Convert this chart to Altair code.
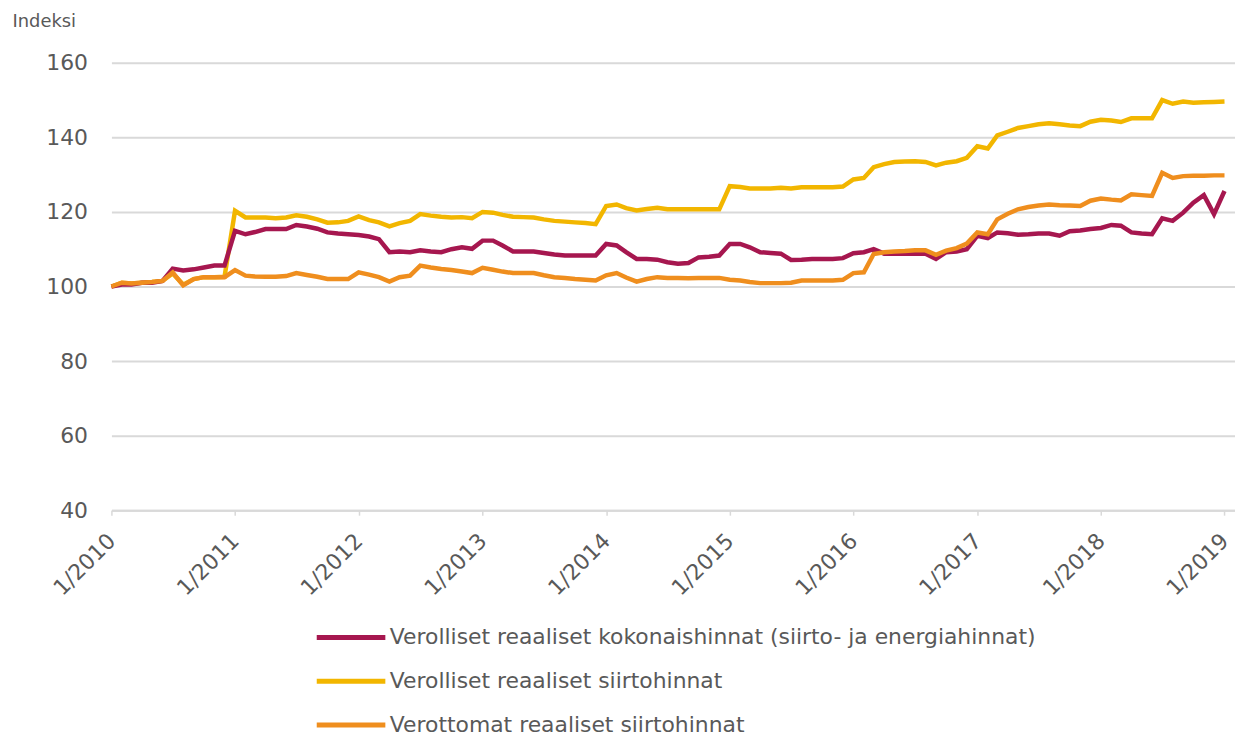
import altair as alt
import pandas as pd

series_names = [
    "Verolliset reaaliset kokonaishinnat (siirto- ja energiahinnat)",
    "Verolliset reaaliset siirtohinnat",
    "Verottomat reaaliset siirtohinnat",
]
series_colors = ["#A6174F", "#F2B600", "#EF8E1E"]

kokonais = [
    100, 100.5, 100.5, 101, 101, 101.5, 104.8, 104.3, 104.6, 105.1, 105.6, 105.6,
    114.9, 114, 114.6, 115.4, 115.4, 115.4, 116.5, 116.1, 115.5, 114.5, 114.2, 114,
    113.8, 113.4, 112.7, 109.2, 109.4, 109.2, 109.7, 109.4, 109.2, 110, 110.5, 110.1,
    112.3, 112.3, 111, 109.4, 109.4, 109.4, 109, 108.6, 108.3, 108.3, 108.3, 108.3,
    111.4, 111, 109.2, 107.4, 107.4, 107.2, 106.5, 106.1, 106.3, 107.8, 108, 108.3,
    111.4, 111.4, 110.5, 109.2, 109, 108.8, 107.1, 107.2, 107.4, 107.4, 107.4, 107.6,
    108.9, 109.2, 110, 108.8, 108.8, 108.8, 108.8, 108.8, 107.4, 109.2, 109.4, 110,
    113.6, 113, 114.5, 114.3, 113.9, 114, 114.2, 114.2, 113.6, 114.8, 115, 115.4,
    115.7, 116.5, 116.3, 114.5, 114.2, 114, 118.3, 117.6, 119.8, 122.5, 124.5, 119.4,
    125.6,
]
verolliset_siirto = [
    100, 101, 100.8, 101, 101.2, 101.5, 103.5, 100.5, 102, 102.5, 102.5, 102.6,
    120.3, 118.5, 118.5, 118.5, 118.3, 118.5, 119.1, 118.7, 118, 117.1, 117.2, 117.6,
    118.8, 117.8, 117.2, 116.1, 117, 117.6, 119.4, 119, 118.7, 118.5, 118.6, 118.3,
    120, 119.8, 119.2, 118.7, 118.6, 118.5, 118, 117.6, 117.4, 117.2, 117, 116.7,
    121.6, 122, 121, 120.4, 120.8, 121.1, 120.7, 120.7, 120.7, 120.7, 120.7, 120.7,
    126.9, 126.7, 126.3, 126.3, 126.3, 126.5, 126.3, 126.6, 126.6, 126.6, 126.6, 126.8,
    128.7, 129.1, 132, 132.8, 133.4, 133.5, 133.6, 133.4, 132.5, 133.2, 133.6, 134.5,
    137.6, 137, 140.5, 141.5, 142.5, 143, 143.5, 143.8, 143.5, 143.2, 143, 144.2,
    144.7, 144.5, 144.1, 145.1, 145.1, 145.1, 150, 149, 149.6, 149.3, 149.4, 149.5,
    149.6,
]
verottomat_siirto = [
    100, 101, 100.8, 101, 101.2, 101.5, 103.8, 100.3, 102, 102.5, 102.5, 102.5,
    104.4, 102.9, 102.7, 102.6, 102.6, 102.8, 103.6, 103.1, 102.6, 102, 102, 102,
    103.8, 103.2, 102.5, 101.3, 102.5, 102.9, 105.6, 105.1, 104.7, 104.4, 104, 103.6,
    105, 104.5, 104, 103.6, 103.6, 103.6, 103, 102.5, 102.3, 102, 101.8, 101.6,
    103, 103.6, 102.4, 101.3, 102, 102.5, 102.3, 102.3, 102.2, 102.3, 102.3, 102.3,
    101.8, 101.6, 101.2, 100.9, 100.9, 100.9, 101, 101.6, 101.6, 101.6, 101.6, 101.8,
    103.6, 103.8, 108.7, 109.2, 109.4, 109.5, 109.7, 109.7, 108.5, 109.6, 110.3, 111.5,
    114.5, 114, 118, 119.5, 120.7, 121.3, 121.7, 122, 121.8, 121.7, 121.6, 123,
    123.6, 123.3, 123.1, 124.7, 124.5, 124.3, 130.5, 129.1, 129.6, 129.7, 129.7, 129.8,
    129.8,
]
y_ticks = [40, 60, 80, 100, 120, 140, 160]
x_tick_years = list(range(2010, 2020))

months = pd.date_range("2010-01-01", periods=len(kokonais), freq="MS").strftime("%Y-%m-%dT00:00:00").tolist()

rows = []
for name, vals in zip(series_names, [kokonais, verolliset_siirto, verottomat_siirto]):
    for d, v in zip(months, vals):
        rows.append({"kk": d, "arvo": v, "sarja": name})
df = pd.DataFrame(rows)

grey = "#595959"
gridc = "#D9D9D9"

x_enc = alt.X(
    "kk:T",
    scale=alt.Scale(domain=[alt.DateTime(year=2010, month=1, date=1),
                            alt.DateTime(year=2019, month=2, date=1)]),
    axis=alt.Axis(
        values=[alt.DateTime(year=y, month=1, date=1) for y in x_tick_years],
        format="%-m/%Y", labelAngle=315, labelAlign="right", labelBaseline="middle",
        labelFontSize=22, labelColor=grey, labelPadding=22,
        grid=False, domain=True, domainColor=gridc, domainWidth=2,
        ticks=True, tickColor=gridc, tickSize=5, tickWidth=1.5, title=None,
    ),
)
y_enc = alt.Y(
    "arvo:Q",
    scale=alt.Scale(domain=[40, 160], nice=False, zero=False),
    axis=alt.Axis(
        values=y_ticks, grid=True, gridColor=gridc, gridWidth=2,
        domain=False, ticks=False, labelFontSize=22, labelColor=grey, labelPadding=24,
        title="Indeksi", titleAngle=0, titleAlign="left", titleBaseline="alphabetic",
        titleX=-100, titleY=-36, titleFontSize=18, titleFontWeight="normal", titleColor=grey,
    ),
)
color_enc = alt.Color(
    "sarja:N",
    scale=alt.Scale(domain=series_names, range=series_colors),
    legend=alt.Legend(
        title=None, orient="none", legendX=204, legendY=556, direction="vertical",
        symbolType="stroke", symbolSize=4761, symbolStrokeWidth=5,
        labelFontSize=22, labelColor=grey, labelOffset=2, clipHeight=44, rowPadding=0,
        labelLimit=1000,
    ),
)

base = alt.Chart(df).mark_line(strokeWidth=4.5).encode(x=x_enc, y=y_enc, color=color_enc)
order = [1, 0, 2]
layers = [base.transform_filter(alt.datum.sarja == series_names[i]) for i in order]

chart = alt.layer(*layers).properties(
    width=1130, height=450,
    padding={"left": 104, "top": 53, "right": 0, "bottom": 226},
    autosize=alt.AutoSizeParams(type="none"),
).configure(font="DejaVu Sans").configure_view(stroke=None)

chart.save("out.html", embed_options={"renderer": "svg", "actions": False})
